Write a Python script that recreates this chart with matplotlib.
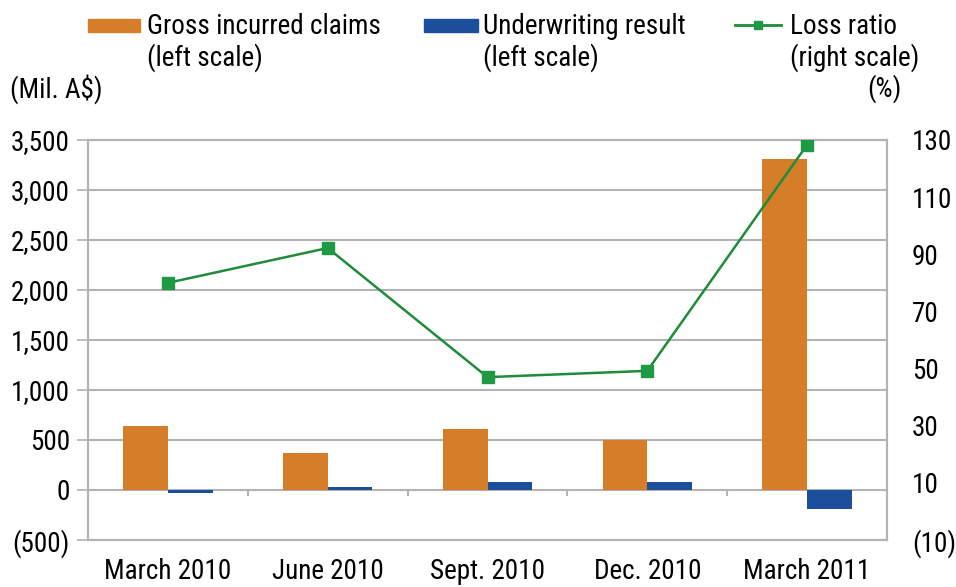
import numpy as np
import matplotlib
matplotlib.use("Agg")
import matplotlib.pyplot as plt
from matplotlib.patches import Rectangle
from matplotlib.lines import Line2D

plt.rcParams['font.family'] = ['Roboto Condensed', 'Roboto', 'DejaVu Sans']

quarters = ["March 2010", "June 2010", "Sept. 2010", "Dec. 2010", "March 2011"]
gross_claims = [640, 370, 610, 500, 3310]        # Mil. A$
uw_result = [-25, 30, 80, 78, -190]              # Mil. A$
loss_ratio = [80.0, 92.2, 47.0, 49.2, 128.3]     # %

left_ticks = [-500, 0, 500, 1000, 1500, 2000, 2500, 3000, 3500]
right_ticks = [-10, 10, 30, 50, 70, 90, 110, 130]

orange = "#D67D2A"
blue = "#1B4F9C"
green = "#1E8C3A"
grid_c = "#B3B3B6"
fs = 19.5

def fmt_num(v):
    return "({:,})".format(-v) if v < 0 else "{:,}".format(v)

fig = plt.figure(figsize=(9.56, 5.87), dpi=100)
ax = fig.add_axes([88/956, 1 - 540/587, (887-88)/956, 400/587])

x = np.arange(len(quarters))
w = 0.28
ax.bar(x - w/2, gross_claims, w, color=orange, zorder=3)
ax.bar(x + w/2, uw_result, w, color=blue, zorder=3)

ax.set_xlim(-0.5, len(quarters) - 0.5)
ax.set_ylim(-500, 3500)
ax.set_yticks(left_ticks)
ax.set_yticklabels([fmt_num(v) for v in left_ticks], fontsize=fs)
ax.yaxis.grid(True, color=grid_c, lw=1.5, zorder=0)
ax.set_xticks(x)
ax.set_xticklabels(quarters, fontsize=fs)
ax.tick_params(axis='x', length=0, pad=13)
ax.tick_params(axis='y', length=8, color=grid_c, width=1.2, pad=5)
for s in ax.spines.values():
    s.set_color(grid_c)
    s.set_linewidth(1.5)

# small category separators hanging below the zero line
ax.vlines(x[:-1] + 0.5, -60, 0, color=grid_c, lw=1.5, zorder=2)

ax2 = ax.twinx()
ax2.plot(x, loss_ratio, color=green, lw=1.8, marker='s', markersize=8,
         markerfacecolor="#1E9A45", markeredgecolor="#1E9A45", zorder=4)
ax2.set_ylim(-10, 130)
ax2.set_yticks(right_ticks)
ax2.set_yticklabels([fmt_num(v) for v in right_ticks], fontsize=fs)
ax2.tick_params(axis='y', length=0, pad=18)
for s in ax2.spines.values():
    s.set_color(grid_c)
    s.set_linewidth(1.5)

# legend drawn by hand so the handles sit on the first line of each label
def fx(px):
    return px / 956

def fy(py):
    return 1 - py / 587

fig.add_artist(Rectangle((fx(88), fy(32)), fx(52), 13/587, color=orange,
                         transform=fig.transFigure))
fig.add_artist(Rectangle((fx(424), fy(32)), fx(54), 13/587, color=blue,
                         transform=fig.transFigure))
fig.add_artist(Line2D([fx(735), fx(781)], [fy(25), fy(25)], color=green, lw=2,
                      transform=fig.transFigure))
fig.add_artist(Line2D([fx(758)], [fy(25)], color="#1E9A45", marker='s',
                      markersize=6, transform=fig.transFigure))

fig.text(fx(147), fy(26), "Gross incurred claims", fontsize=fs, va='center')
fig.text(fx(147), fy(58), "(left scale)", fontsize=fs, va='center')
fig.text(fx(483), fy(26), "Underwriting result", fontsize=fs, va='center')
fig.text(fx(483), fy(58), "(left scale)", fontsize=fs, va='center')
fig.text(fx(790), fy(26), "Loss ratio", fontsize=fs, va='center')
fig.text(fx(790), fy(58), "(right scale)", fontsize=fs, va='center')
fig.text(fx(10), fy(89), "(Mil. A$)", fontsize=fs, va='center')
fig.text(fx(902), fy(89), "(%)", fontsize=fs, va='center', ha='right')

fig.savefig("out.png", dpi=100)
